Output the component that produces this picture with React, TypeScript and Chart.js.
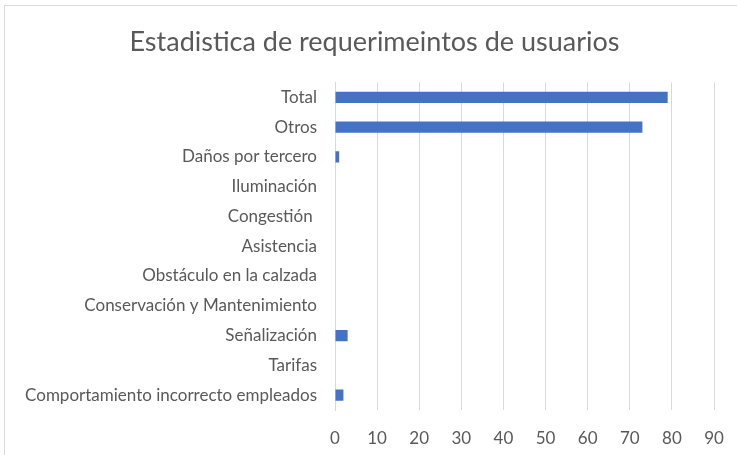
import React, { useEffect, useRef } from "react";
import { Chart, registerables } from "chart.js";

Chart.register(...registerables);

const categories = [
  "Total",
  "Otros",
  "Daños por tercero",
  "Iluminación",
  "Congestión ",
  "Asistencia",
  "Obstáculo en la calzada",
  "Conservación y Mantenimiento",
  "Señalización",
  "Tarifas",
  "Comportamiento incorrecto empleados",
];
const values = [79, 73, 1, 0, 0, 0, 0, 0, 3, 0, 2];
const xMin = 0;
const xMax = 90;
const xStep = 10;
const titleText = "Estadistica de requerimeintos de usuarios";

const shiftTitle = {
  id: "shiftTitle",
  afterLayout(chart: any) {
    const t = chart.titleBlock;
    if (t) t.left += 30;
  },
};

export default function App() {
  const ref = useRef<HTMLCanvasElement | null>(null);
  useEffect(() => {
    if (!ref.current) return;
    const font = "Lato, 'Open Sans', sans-serif";
    const chart = new Chart(ref.current, {
      type: "bar",
      data: {
        labels: categories,
        datasets: [
          {
            data: values,
            backgroundColor: "#4472C4",
            borderWidth: 0,
            barPercentage: 0.38,
            categoryPercentage: 1,
          },
        ],
      },
      plugins: [shiftTitle],
      options: {
        indexAxis: "y",
        animation: false,
        responsive: false,
        maintainAspectRatio: false,
        layout: { padding: { top: 5, left: 5, right: 23, bottom: 0 } },
        plugins: {
          legend: { display: false },
          tooltip: { enabled: false },
          title: {
            display: true,
            text: titleText,
            color: "#595959",
            font: { family: font, size: 27, weight: "normal" },
            padding: { top: 21, bottom: 24 },
          },
        },
        scales: {
          x: {
            min: xMin,
            max: xMax,
            ticks: {
              stepSize: xStep,
              color: "#595959",
              font: { family: font, size: 17 },
              padding: 18,
            },
            grid: { color: "#d9d9d9", drawTicks: false },
            border: { display: false },
            afterFit: (s: any) => {
              s.height = 45;
              s.paddingLeft = 0;
              s.paddingRight = 0;
            },
          },
          y: {
            ticks: {
              color: "#595959",
              font: { family: font, size: 17 },
              padding: 18,
              autoSkip: false,
            },
            grid: { display: false, drawTicks: false },
            border: { display: true, color: "#d9d9d9" },
            afterFit: (s: any) => {
              s.width = 330;
            },
          },
        },
      },
    });
    return () => chart.destroy();
  }, []);
  return (
    <div
      style={{
        position: "fixed",
        left: 0,
        top: 0,
        width: 737,
        height: 455,
        overflow: "hidden",
        background: "#fff",
      }}
    >
      <div
        style={{
          position: "absolute",
          left: 4,
          top: 5,
          width: 800,
          height: 500,
          border: "1px solid #d9d9d9",
          boxSizing: "border-box",
        }}
      />
      <canvas
        ref={ref}
        width={737}
        height={455}
        style={{ position: "absolute", left: 0, top: 0, width: 737, height: 455 }}
      />
    </div>
  );
}
